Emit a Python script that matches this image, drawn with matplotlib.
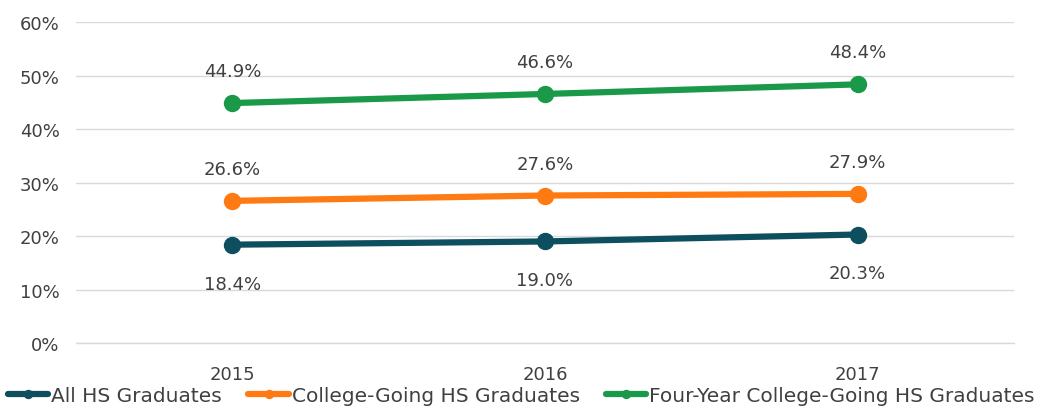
import matplotlib
matplotlib.use("Agg")
import matplotlib.pyplot as plt
from matplotlib.ticker import PercentFormatter

# data
years = ["2015", "2016", "2017"]
all_hs = [18.4, 19.0, 20.3]
college_going = [26.6, 27.6, 27.9]
four_year = [44.9, 46.6, 48.4]

series_names = ["All HS Graduates", "College-Going HS Graduates",
                "Four-Year College-Going HS Graduates"]
colors = ["#0D4F5E", "#FF7A12", "#1A9A48"]
text_color = "#404040"

plt.rcParams['font.family'] = ['DejaVu Sans']

fig = plt.figure(figsize=(10.43, 4.10), dpi=100)
ax = fig.add_axes([0.073, 0.161, 0.899, 0.782])

x = range(len(years))
series = [all_hs, college_going, four_year]
for vals, name, c in zip(series, series_names, colors):
    ax.plot(x, vals, color=c, lw=4.5, marker='o', ms=11.5,
            solid_capstyle='round', label=name, zorder=3)

# data labels: below for the first series, above for the others
for i, v in enumerate(all_hs):
    ax.annotate(f"{v:.1f}%", (i, v), xytext=(0, -28), textcoords='offset points',
                ha='center', va='center', fontsize=13, color=text_color)
for vals in (college_going, four_year):
    for i, v in enumerate(vals):
        ax.annotate(f"{v:.1f}%", (i, v), xytext=(0, 23), textcoords='offset points',
                    ha='center', va='center', fontsize=13, color=text_color)

ax.set_xlim(-0.5, 2.5)
ax.set_ylim(0, 60)
ax.set_yticks(range(0, 61, 10))
ax.yaxis.set_major_formatter(PercentFormatter(decimals=0))
ax.set_xticks(list(x))
ax.set_xticklabels(years)
ax.tick_params(length=0, labelsize=13, colors=text_color)
ax.tick_params(axis='x', pad=16)
ax.tick_params(axis='y', pad=12)
ax.grid(axis='y', color='#D9D9D9', lw=1)
ax.axhline(0, color='#D9D9D9', lw=1, clip_on=False, zorder=1)
ax.set_axisbelow(True)
for s in ax.spines.values():
    s.set_visible(False)

fig.legend(loc='lower center', bbox_to_anchor=(0.5, -0.035), ncol=3, frameon=False,
           fontsize=14.5, labelcolor=text_color, handlelength=2.0, handletextpad=0.15,
           columnspacing=1.3, markerscale=0.5)

fig.savefig("out.png", dpi=100)
